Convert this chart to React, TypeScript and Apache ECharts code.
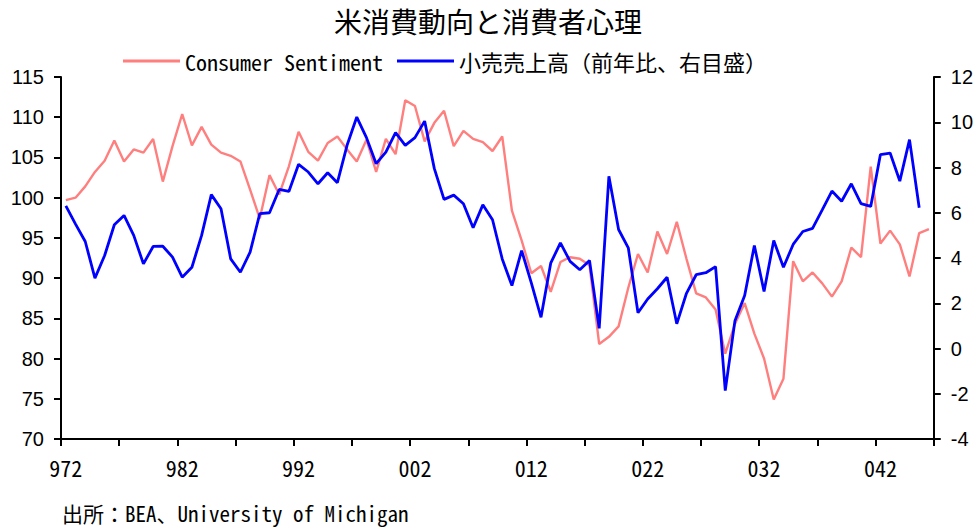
import React, { useEffect, useRef } from "react";
import * as echarts from "echarts";

const titleText = "米消費動向と消費者心理";
const sourceText = "出所：BEA、University of Michigan";
const seriesNames = ["Consumer Sentiment", "小売売上高（前年比、右目盛）"];

const categories = [
  "972", "973", "974", "975", "976", "977", "978", "979", "9710", "9711", "9712",
  "981", "982", "983", "984", "985", "986", "987", "988", "989", "9810", "9811", "9812",
  "991", "992", "993", "994", "995", "996", "997", "998", "999", "9910", "9911", "9912",
  "001", "002", "003", "004", "005", "006", "007", "008", "009", "0010", "0011", "0012",
  "011", "012", "013", "014", "015", "016", "017", "018", "019", "0110", "0111", "0112",
  "021", "022", "023", "024", "025", "026", "027", "028", "029", "0210", "0211", "0212",
  "031", "032", "033", "034", "035", "036", "037", "038", "039", "0310", "0311", "0312",
  "041", "042", "043", "044", "045", "046", "047",
];

const consumerSentiment = [
  99.7, 100.0, 101.4, 103.2, 104.6, 107.1, 104.5, 106.0, 105.6, 107.3, 102.0, 106.4,
  110.4, 106.5, 108.8, 106.6, 105.6, 105.2, 104.5, 101.0, 97.4, 102.8, 100.4, 103.9,
  108.2, 105.7, 104.6, 106.8, 107.6, 106.0, 104.5, 107.2, 103.2, 107.3, 105.4, 112.1,
  111.4, 107.0, 109.3, 110.8, 106.4, 108.3, 107.3, 106.9, 105.8, 107.6, 98.4, 94.7,
  90.6, 91.5, 88.3, 92.0, 92.6, 92.4, 91.6, 81.8, 82.7, 84.0, 88.8, 93.0,
  90.7, 95.8, 93.0, 97.0, 92.4, 88.1, 87.6, 86.1, 80.6, 84.3, 86.9, 83.1,
  80.0, 74.9, 77.5, 92.1, 89.6, 90.7, 89.35, 87.7, 89.6, 93.8, 92.6, 103.85,
  94.3, 95.9, 94.2, 90.2, 95.6, 96.1,
];

const retailSalesYoY: (number | null)[] = [
  6.3, 5.5, 4.73, 3.11, 4.11, 5.47, 5.88, 5.0, 3.74, 4.51, 4.52, 4.04,
  3.15, 3.59, 5.0, 6.8, 6.18, 3.96, 3.37, 4.26, 5.96, 6.0, 7.03, 6.94,
  8.14, 7.8, 7.28, 7.77, 7.33, 8.98, 10.23, 9.32, 8.17, 8.68, 9.54, 8.98,
  9.32, 10.05, 7.95, 6.59, 6.78, 6.4, 5.34, 6.35, 5.69, 3.96, 2.78, 4.33,
  2.9, 1.38, 3.77, 4.67, 3.85, 3.48, 3.89, 0.89, 7.61, 5.26, 4.45, 1.58,
  2.19, 2.64, 3.15, 1.09, 2.44, 3.26, 3.35, 3.62, -1.86, 1.23, 2.34, 4.55,
  2.52, 4.77, 3.59, 4.6, 5.17, 5.31, 6.13, 6.96, 6.51, 7.28, 6.4, 6.28,
  8.57, 8.64, 7.4, 9.23, 6.22, null,
];

const MONO = "'Noto Sans Mono CJK JP', 'Noto Sans CJK JP', 'DejaVu Sans Mono', monospace";
const CJK = "'Noto Sans CJK JP', sans-serif";
const SANS = "'Liberation Sans', Arial, sans-serif";

export default function App() {
  const ref = useRef<HTMLDivElement>(null);
  useEffect(() => {
    if (!ref.current) return;
    const chart = echarts.init(ref.current, null, { renderer: "svg" });
    const axisLineStyle = { color: "#000", width: 2 };
    chart.setOption({
      animation: false,
      backgroundColor: "#fff",
      title: {
        text: titleText,
        left: "center",
        top: 7,
        padding: 0,
        textStyle: { fontFamily: CJK, fontSize: 28, fontWeight: "normal", color: "#000" },
      },
      legend: {
        left: 123,
        top: 50,
        padding: 0,
        icon: "rect",
        itemWidth: 57,
        itemHeight: 3,
        itemGap: 14,
        textStyle: { fontFamily: MONO, fontSize: 22, color: "#000" },
        data: seriesNames,
      },
      grid: { left: 61, right: 41, top: 77, bottom: 88, containLabel: false },
      xAxis: {
        type: "category",
        data: categories,
        boundaryGap: true,
        axisLine: { onZero: false, lineStyle: axisLineStyle },
        axisTick: { show: true, interval: 5, length: 7, lineStyle: axisLineStyle },
        axisLabel: {
          interval: 11,
          margin: 17,
          fontFamily: MONO,
          fontSize: 22,
          color: "#000",
        },
        splitLine: { show: false },
      },
      yAxis: [
        {
          type: "value",
          min: 70,
          max: 115,
          interval: 5,
          position: "left",
          axisLine: { show: true, lineStyle: axisLineStyle },
          axisTick: { show: true, length: 7, lineStyle: axisLineStyle },
          axisLabel: { margin: 17, fontFamily: SANS, fontSize: 20, color: "#000" },
          splitLine: { show: false },
        },
        {
          type: "value",
          min: -4,
          max: 12,
          interval: 2,
          position: "right",
          axisLine: { show: true, lineStyle: axisLineStyle },
          axisTick: { show: true, length: 7, lineStyle: axisLineStyle },
          axisLabel: { margin: 17, fontFamily: SANS, fontSize: 20, color: "#000" },
          splitLine: { show: false },
        },
      ],
      series: [
        {
          name: seriesNames[0],
          type: "line",
          data: consumerSentiment,
          yAxisIndex: 0,
          symbol: "none",
          color: "#FF7F7F",
          lineStyle: { color: "#FF7F7F", width: 2.4 },
        },
        {
          name: seriesNames[1],
          type: "line",
          data: retailSalesYoY,
          yAxisIndex: 1,
          symbol: "none",
          color: "#0000FF",
          lineStyle: { color: "#0000FF", width: 2.8 },
        },
      ],
      graphic: [
        {
          type: "text",
          left: 62,
          top: 502,
          style: { text: sourceText, font: `21px ${MONO}`, fill: "#000" },
        },
      ],
    });
    return () => chart.dispose();
  }, []);
  return (
    <div
      ref={ref}
      style={{ position: "fixed", left: 0, top: 0, width: 976, height: 527 }}
    />
  );
}
